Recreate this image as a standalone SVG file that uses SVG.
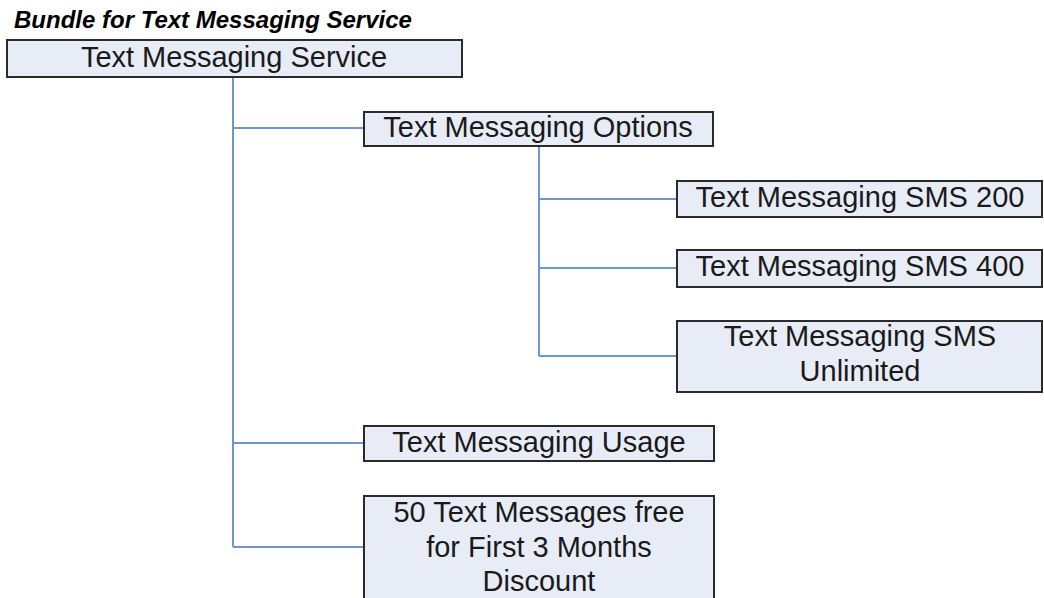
<svg xmlns="http://www.w3.org/2000/svg" width="1044" height="598" viewBox="0 0 1044 598">
<style>
.box{fill:#e8ecf6;stroke:#2b2b2b;stroke-width:2}
.lbl{font-family:"Liberation Sans",Arial,sans-serif;font-size:29px;fill:#1a1a1a;text-anchor:middle}
.title{font-family:"Liberation Sans",Arial,sans-serif;font-size:24px;font-weight:bold;font-style:italic;fill:#000}
.conn{fill:none;stroke:#6f94cf;stroke-width:2}
</style>
<rect width="1044" height="598" fill="#ffffff"/>
<text class="title" x="14" y="28">Bundle for Text Messaging Service</text>
<g id="connectors">
<path class="conn" d="M233 77 V547 M233 128 H364 M233 443 H364 M233 547 H364"/>
<path class="conn" d="M539 146 V356 M539 199 H677 M539 268 H677 M539 356 H677"/>
</g>
<g id="root">
<rect class="box" x="7" y="40" width="455" height="37"/>
<text class="lbl" x="234" y="67">Text Messaging Service</text>
</g>
<g id="options">
<rect class="box" x="364" y="112" width="349" height="34"/>
<text class="lbl" x="538" y="137">Text Messaging Options</text>
</g>
<g id="sms200">
<rect class="box" x="677" y="181" width="365" height="36"/>
<text class="lbl" x="860" y="207">Text Messaging SMS 200</text>
</g>
<g id="sms400">
<rect class="box" x="677" y="250" width="365" height="37"/>
<text class="lbl" x="860" y="276">Text Messaging SMS 400</text>
</g>
<g id="smsunlimited">
<rect class="box" x="677" y="321" width="365" height="71"/>
<text class="lbl" x="860" y="346">Text Messaging SMS</text>
<text class="lbl" x="860" y="381">Unlimited</text>
</g>
<g id="usage">
<rect class="box" x="364" y="426" width="350" height="35"/>
<text class="lbl" x="539" y="452">Text Messaging Usage</text>
</g>
<g id="discount">
<rect class="box" x="364" y="496" width="350" height="110"/>
<text class="lbl" x="539" y="522">50 Text Messages free</text>
<text class="lbl" x="539" y="557">for First 3 Months</text>
<text class="lbl" x="539" y="591">Discount</text>
</g>
</svg>
